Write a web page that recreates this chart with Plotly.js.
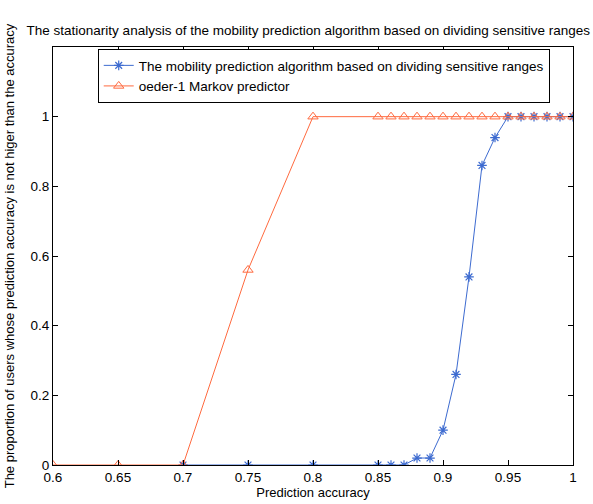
<!DOCTYPE html>
<html>
<head>
<meta charset="utf-8">
<script src="https://cdn.plot.ly/plotly-3.0.1.min.js"></script>
<style>html,body{margin:0;padding:0;background:#fff;}#chart{width:593px;height:504px;}</style>
</head>
<body>
<div id="chart"></div>
<script>
const seriesNames = [
  "The mobility prediction algorithm based on dividing sensitive ranges",
  "oeder-1 Markov predictor"
];
const algoX = [0.7, 0.75, 0.8, 0.85, 0.86, 0.87, 0.88, 0.89, 0.9, 0.91, 0.92, 0.93, 0.94, 0.95, 0.96, 0.97, 0.98, 0.99, 1.0];
const algoY = [0, 0, 0, 0, 0, 0, 0.02, 0.02, 0.1, 0.26, 0.54, 0.86, 0.94, 1, 1, 1, 1, 1, 1];
const markovX = [0.6, 0.65, 0.7, 0.75, 0.8, 0.85, 0.86, 0.87, 0.88, 0.89, 0.9, 0.91, 0.92, 0.93, 0.94, 0.95, 0.96, 0.97, 0.98, 0.99, 1.0];
const markovY = [0, 0, 0, 0.56, 1, 1, 1, 1, 1, 1, 1, 1, 1, 1, 1, 1, 1, 1, 1, 1, 1];
const xTicks = [0.6, 0.65, 0.7, 0.75, 0.8, 0.85, 0.9, 0.95, 1];
const xTickText = ["0.6", "0.65", "0.7", "0.75", "0.8", "0.85", "0.9", "0.95", "1"];
const yTicks = [0, 0.2, 0.4, 0.6, 0.8, 1];
const yTickText = ["0", "0.2", "0.4", "0.6", "0.8", "1"];

const blue = "#3d6bd0";
const orange = "#ff6a3f";
const font = "Liberation Sans, Arial, sans-serif";

const traces = [
  {
    x: algoX, y: algoY, name: seriesNames[0], type: "scatter", mode: "lines+markers",
    line: {color: blue, width: 1},
    marker: {symbol: "asterisk-open", size: 8, color: blue, line: {color: blue, width: 1.2}},
    cliponaxis: true
  },
  {
    x: markovX, y: markovY, name: seriesNames[1], type: "scatter", mode: "lines+markers",
    line: {color: orange, width: 1},
    marker: {symbol: "triangle-up-open", size: 9, color: orange, line: {color: orange, width: 1}},
    cliponaxis: true
  }
];

const axisCommon = {
  showgrid: false, zeroline: false, showline: true, linecolor: "#000", linewidth: 1,
  mirror: "ticks", ticks: "inside", ticklen: 5, tickcolor: "#000", tickwidth: 1,
  tickfont: {family: font, size: 13.5, color: "#000"}
};

const layout = {
  width: 593, height: 504,
  margin: {l: 53, r: 20, t: 47, b: 39},
  paper_bgcolor: "#fff", plot_bgcolor: "#fff",
  showlegend: true,
  title: {
    text: "The stationarity analysis of the mobility prediction algorithm based on dividing sensitive ranges",
    font: {family: font, size: 13.5, color: "#000"},
    x: 0.52, xanchor: "center", y: 0.94, yanchor: "middle"
  },
  xaxis: Object.assign({}, axisCommon, {
    range: [0.6, 1], tickvals: xTicks, ticktext: xTickText,
    title: {text: "Prediction accuracy", font: {family: font, size: 13, color: "#000"}, standoff: 2}
  }),
  yaxis: Object.assign({}, axisCommon, {
    range: [0, 1.2], tickvals: yTicks, ticktext: yTickText,
    title: {text: "The proportion of users whose prediction accuracy is not higer than the accuracy", font: {family: font, size: 13, color: "#000"}, standoff: 12}
  }),
  legend: {
    x: 0.086, y: 0.995, xanchor: "left", yanchor: "top",
    bgcolor: "#fff", bordercolor: "#000", borderwidth: 1,
    font: {family: font, size: 13.5, color: "#000"},
    tracegroupgap: 0
  }
};

Plotly.newPlot("chart", traces, layout, {displayModeBar: false, staticPlot: true});
</script>
</body>
</html>
